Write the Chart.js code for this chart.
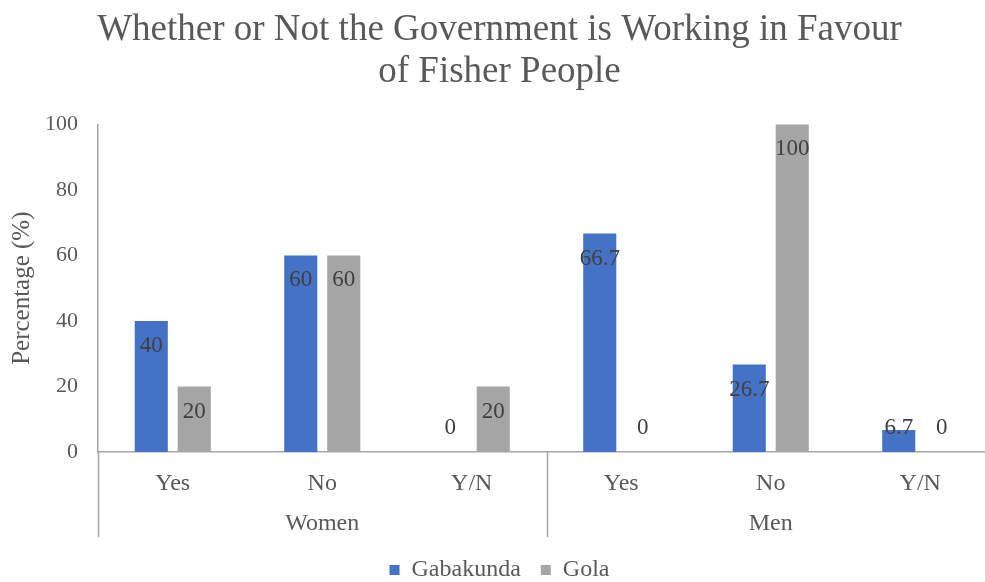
<!DOCTYPE html>
<html>
<head>
<meta charset="utf-8">
<script src="https://cdn.jsdelivr.net/npm/chart.js@4.4.1/dist/chart.umd.min.js"></script>
<style>
  html, body { margin: 0; padding: 0; background: #ffffff; overflow: hidden; }
  #wrap { width: 985px; height: 582px; overflow: hidden; position: relative; }
  #box { width: 995px; height: 592px; position: absolute; left: 0; top: 0; }
</style>
</head>
<body>
<div id="wrap"><div id="box"><canvas id="chart"></canvas></div></div>
<script>
// Survey responses by group and site
const groups = ["Women", "Men"];
const answers = ["Yes", "No", "Y/N"];
const categories = ["Yes", "No", "Y/N", "Yes", "No", "Y/N"];
const gabakunda = [40, 60, 0, 66.7, 26.7, 6.7];
const gola = [20, 60, 20, 0, 100, 0];
const yTicks = [0, 20, 40, 60, 80, 100];

const SERIF = "'Liberation Serif', 'Times New Roman', serif";
const TEXT = "#595959";
const LINE = "#a6a6a6";

// Value labels placed just inside the top of each bar
const valueLabels = {
  id: "valueLabels",
  afterDatasetsDraw(chart) {
    const ctx = chart.ctx;
    const y = chart.scales.y;
    const base = y.getPixelForValue(0);
    ctx.save();
    ctx.font = "23px " + SERIF;
    ctx.fillStyle = "#404040";
    ctx.textAlign = "center";
    ctx.textBaseline = "middle";
    chart.data.datasets.forEach((ds, di) => {
      const meta = chart.getDatasetMeta(di);
      meta.data.forEach((bar, i) => {
        const v = ds.data[i];
        const top = y.getPixelForValue(v);
        const ly = Math.min(top + 25, base - 24);
        ctx.fillText(String(v), bar.x, ly);
      });
    });
    ctx.restore();
  }
};

// Second category row (Women / Men) with separators
const groupAxis = {
  id: "groupAxis",
  afterDraw(chart) {
    const ctx = chart.ctx;
    const x = chart.scales.x;
    const area = chart.chartArea;
    const per = answers.length;
    const half = (x.getPixelForValue(1) - x.getPixelForValue(0)) / 2;
    const lineBottom = area.bottom + 85;
    ctx.save();
    ctx.strokeStyle = LINE;
    ctx.lineWidth = 1.5;
    for (let g = 0; g <= groups.length; g++) {
      const idx = g * per;
      const px = Math.round(x.getPixelForValue(idx) - half) + 0.5;
      ctx.beginPath();
      ctx.moveTo(px, area.bottom);
      ctx.lineTo(px, lineBottom);
      ctx.stroke();
    }
    ctx.font = "24px " + SERIF;
    ctx.fillStyle = TEXT;
    ctx.textAlign = "center";
    ctx.textBaseline = "middle";
    groups.forEach((name, g) => {
      const c = (x.getPixelForValue(g * per) + x.getPixelForValue(g * per + per - 1)) / 2;
      ctx.fillText(name, c, area.bottom + 72);
    });
    ctx.restore();
  }
};

new Chart(document.getElementById("chart"), {
  type: "bar",
  data: {
    labels: categories,
    datasets: [
      { label: "Gabakunda", data: gabakunda, backgroundColor: "#4472c4",
        categoryPercentage: 0.575, barPercentage: 0.77 },
      { label: "Gola", data: gola, backgroundColor: "#a5a5a5",
        categoryPercentage: 0.575, barPercentage: 0.77 }
    ]
  },
  options: {
    responsive: true,
    maintainAspectRatio: false,
    animation: false,
    layout: { padding: { left: 4, right: 0, top: 6, bottom: 0 } },
    plugins: {
      title: {
        display: true,
        text: ["Whether or Not the Government is Working in Favour", "of Fisher People"],
        color: TEXT,
        font: { family: SERIF, size: 37, weight: "normal", lineHeight: 1.14 },
        padding: { top: 3, bottom: 31 }
      },
      legend: {
        position: "bottom",
        labels: {
          color: TEXT,
          font: { family: SERIF, size: 24 },
          boxWidth: 10, boxHeight: 10, padding: 20,
          generateLabels(chart) {
            return chart.data.datasets.map((ds, i) => ({
              text: ds.label, fillStyle: ds.backgroundColor, strokeStyle: ds.backgroundColor,
              lineWidth: 0, fontColor: TEXT, datasetIndex: i, hidden: false
            }));
          }
        }
      },
      tooltip: { enabled: false }
    },
    scales: {
      x: {
        grid: { display: false, drawTicks: false },
        border: { color: LINE, width: 1.5 },
        ticks: { color: TEXT, font: { family: SERIF, size: 24 }, padding: 17, maxRotation: 0 },
        afterFit(scale) { scale.height = 86; }
      },
      y: {
        min: 0, max: 100,
        afterBuildTicks(scale) { scale.ticks = yTicks.map(v => ({ value: v })); },
        grid: { display: false, drawTicks: false },
        border: { color: LINE, width: 1.5 },
        ticks: { color: TEXT, font: { family: SERIF, size: 22 }, padding: 20 },
        title: { display: true, text: "Percentage (%)", color: TEXT,
                 font: { family: SERIF, size: 25 }, padding: { top: 3, bottom: 8 } },
        afterFit(scale) { scale.width = 94; }
      }
    }
  },
  plugins: [valueLabels, groupAxis]
});
</script>
</body>
</html>
